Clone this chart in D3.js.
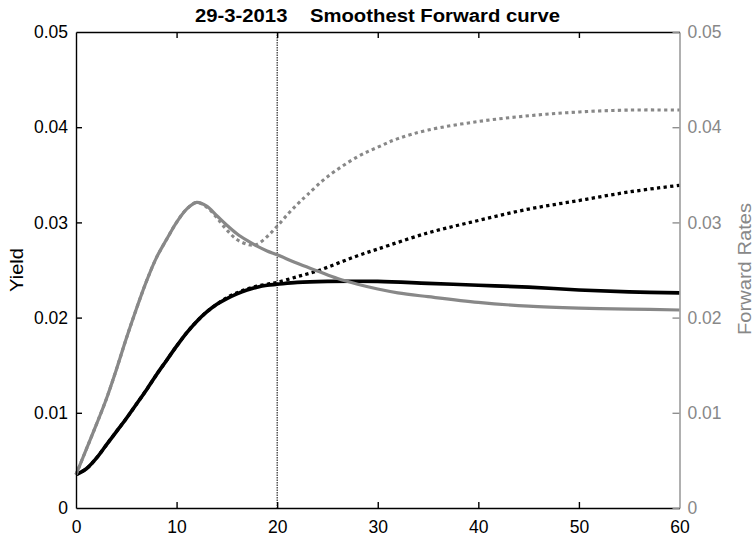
<!DOCTYPE html>
<html>
<head>
<meta charset="utf-8">
<script src="https://cdn.jsdelivr.net/npm/d3@7"></script>
<style>
  body { margin: 0; background: #fff; }
  text { font-family: "Liberation Sans", Arial, sans-serif; }
</style>
</head>
<body>
<svg id="chart"></svg>
<script>
// DATA
const yieldT = [0, 1, 2, 3, 4, 5, 6, 7, 8, 9, 10, 11, 12, 13, 14, 15, 16, 17, 18, 19, 20, 22, 25, 30, 35, 40, 45, 50, 55, 60];
const yieldSmooth = [0.0035, 0.0041, 0.0052, 0.0066, 0.0080, 0.0094, 0.0109, 0.0124, 0.0140, 0.0155, 0.0170, 0.0184, 0.0196, 0.0206, 0.0214, 0.0220, 0.0225, 0.0229, 0.0232, 0.0234, 0.0235, 0.0237, 0.0238, 0.0238, 0.0236, 0.0234, 0.0232, 0.0229, 0.0227, 0.0226];
const yieldDotT = [0, 1, 2, 3, 4, 5, 6, 7, 8, 9, 10, 11, 12, 13, 14, 15, 16, 17, 18, 19, 20, 22, 24, 26, 28, 30, 35, 40, 45, 50, 55, 60];
const yieldDot = [0.0035, 0.0041, 0.0052, 0.0066, 0.0080, 0.0094, 0.0109, 0.0124, 0.0140, 0.0155, 0.0170, 0.0184, 0.0196, 0.0206, 0.0214, 0.0221, 0.0226, 0.0230, 0.0233, 0.0235, 0.0237, 0.0243, 0.0249, 0.0257, 0.0265, 0.0272, 0.0289, 0.0302, 0.0314, 0.0323, 0.0332, 0.0339];
const fwdT = [0, 1, 2, 3, 4, 5, 6, 7, 8, 9, 10, 11, 12, 13, 14, 15, 16, 17, 18, 19, 20, 22, 24, 26, 28, 30, 32, 35, 40, 45, 50, 55, 60];
const fwdSmooth = [0.0035, 0.0061, 0.0087, 0.0114, 0.0145, 0.0178, 0.0209, 0.0238, 0.0263, 0.0282, 0.0300, 0.0314, 0.0321, 0.0317, 0.0307, 0.0297, 0.0288, 0.0281, 0.0275, 0.0270, 0.0266, 0.0257, 0.0249, 0.0241, 0.0235, 0.0230, 0.0226, 0.0222, 0.0216, 0.0212, 0.0210, 0.0209, 0.0208];
const fwdDotT = [0, 1, 2, 3, 4, 5, 6, 7, 8, 9, 10, 11, 12, 13, 14, 15, 16, 17, 17.5, 18, 19, 20, 21, 22, 23, 25, 28, 30, 32, 35, 40, 45, 50, 55, 60];
const fwdDot = [0.0035, 0.0061, 0.0087, 0.0114, 0.0145, 0.0178, 0.0209, 0.0238, 0.0263, 0.0282, 0.0300, 0.0314, 0.0321, 0.0316, 0.0305, 0.0292, 0.0282, 0.0277, 0.0276, 0.0277, 0.0285, 0.0296, 0.0308, 0.0319, 0.0329, 0.0348, 0.0369, 0.0379, 0.0388, 0.0397, 0.0406, 0.0412, 0.0416, 0.0418, 0.0418];
const xTicks = [0, 10, 20, 30, 40, 50, 60];
const yTicks = [0, 0.01, 0.02, 0.03, 0.04, 0.05];
const yTickLabels = ["0", "0.01", "0.02", "0.03", "0.04", "0.05"];
const cutoff = 20;

// SET VARIABLES
const canvasWidth = 755;
const canvasHeight = 538;
const margin = {left: 76, right: 75.5, top: 32, bottom: 30};
const plotW = canvasWidth - margin.left - margin.right;
const plotH = canvasHeight - margin.top - margin.bottom;
const grey = "#888888";
const greyAxis = "#8f8f8f";

const svg = d3.select('#chart')
              .attr('width', canvasWidth)
              .attr('height', canvasHeight);

const x = d3.scaleLinear().domain([0, 60]).range([margin.left, margin.left + plotW]);
const yL = d3.scaleLinear().domain([0, 0.05]).range([margin.top + plotH, margin.top]);
const yR = d3.scaleLinear().domain([0, 0.05]).range([margin.top + plotH, margin.top]);

const zip = (ts, vs) => ts.map((t, i) => ({t: t, v: vs[i]}));
const lineL = d3.line().x(d => x(d.t)).y(d => yL(d.v)).curve(d3.curveCatmullRom.alpha(0.5));
const lineR = d3.line().x(d => x(d.t)).y(d => yR(d.v)).curve(d3.curveCatmullRom.alpha(0.5));

// CUTOFF LINE
svg.append('line')
    .attr('x1', x(cutoff)).attr('x2', x(cutoff))
    .attr('y1', yL(0.05)).attr('y2', yL(0))
    .attr('stroke', '#000').attr('stroke-width', 1)
    .attr('stroke-dasharray', '1.5,1');

// LINES
svg.append('path').datum(zip(yieldDotT, yieldDot))
    .attr('d', lineL).attr('fill', 'none')
    .attr('stroke', '#000').attr('stroke-width', 3.3)
    .attr('stroke-dasharray', '3.3,3.3');
svg.append('path').datum(zip(yieldT, yieldSmooth))
    .attr('d', lineL).attr('fill', 'none')
    .attr('stroke', '#000').attr('stroke-width', 3.6);
svg.append('path').datum(zip(fwdDotT, fwdDot))
    .attr('d', lineR).attr('fill', 'none')
    .attr('stroke', grey).attr('stroke-width', 3.1)
    .attr('stroke-dasharray', '3.3,3.3');
svg.append('path').datum(zip(fwdT, fwdSmooth))
    .attr('d', lineR).attr('fill', 'none')
    .attr('stroke', grey).attr('stroke-width', 3.2);

// AXES
const bottomAxis = svg.append('g')
    .attr('transform', `translate(0, ${margin.top + plotH})`)
    .call(d3.axisBottom(x).tickValues(xTicks).tickSizeInner(-6).tickSizeOuter(0).tickPadding(13));
const topAxis = svg.append('g')
    .attr('transform', `translate(0, ${margin.top})`)
    .call(d3.axisTop(x).tickValues(xTicks.slice(1, -1)).tickSizeInner(-6).tickSizeOuter(0).tickFormat(''));
const leftAxis = svg.append('g')
    .attr('transform', `translate(${margin.left}, 0)`)
    .call(d3.axisLeft(yL).tickValues(yTicks).tickSizeInner(-6).tickSizeOuter(0).tickPadding(8)
            .tickFormat((d, i) => yTickLabels[i]));
const rightAxis = svg.append('g')
    .attr('transform', `translate(${margin.left + plotW}, 0)`)
    .call(d3.axisRight(yR).tickValues(yTicks).tickSizeInner(-7).tickSizeOuter(0).tickPadding(8)
            .tickFormat((d, i) => yTickLabels[i]));

[bottomAxis, topAxis, leftAxis].forEach(g => {
  g.selectAll('path').attr('stroke', '#000').attr('stroke-width', 1.4);
  g.selectAll('line').attr('stroke', '#000').attr('stroke-width', 1.4);
  g.selectAll('text').attr('fill', '#000').style('font-size', '17.5px');
});
bottomAxis.selectAll('.tick').filter(d => d === 0 || d === 60).select('line').remove();
leftAxis.selectAll('.tick').filter(d => d === 0 || d === 0.05).select('line').remove();
rightAxis.selectAll('path').attr('stroke', greyAxis).attr('stroke-width', 1.4);
rightAxis.selectAll('line').attr('stroke', greyAxis).attr('stroke-width', 1.4);
rightAxis.selectAll('text').attr('fill', grey).style('font-size', '17.5px');

// TITLES
svg.append('text')
    .attr('x', 377.5).attr('y', 22)
    .attr('text-anchor', 'middle')
    .attr('textLength', 365).attr('lengthAdjust', 'spacingAndGlyphs')
    .style('font-size', '18px').style('font-weight', 'bold')
    .attr('xml:space', 'preserve')
    .text('29-3-2013    Smoothest Forward curve');

svg.append('text')
    .attr('transform', `translate(23, 270) rotate(-90)`)
    .attr('text-anchor', 'middle')
    .attr('textLength', 44).attr('lengthAdjust', 'spacingAndGlyphs')
    .style('font-size', '18px')
    .text('Yield');

svg.append('text')
    .attr('transform', `translate(751, 269) rotate(-90)`)
    .attr('text-anchor', 'middle')
    .attr('textLength', 132).attr('lengthAdjust', 'spacingAndGlyphs')
    .attr('fill', grey)
    .style('font-size', '18px')
    .text('Forward Rates');
</script>
</body>
</html>
